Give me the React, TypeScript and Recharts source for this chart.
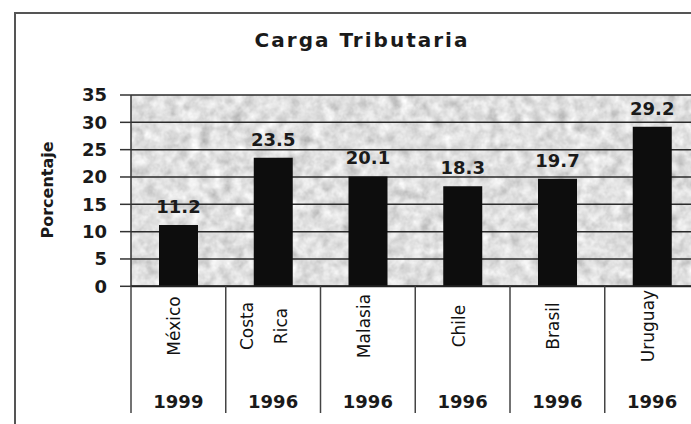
import { BarChart, Bar, XAxis, YAxis, CartesianGrid, LabelList } from 'recharts'

const paises = ['México', 'Costa Rica', 'Malasia', 'Chile', 'Brasil', 'Uruguay']
const anios = ['1999', '1996', '1996', '1996', '1996', '1996']
const carga = [11.2, 23.5, 20.1, 18.3, 19.7, 29.2]
const ticksY = [0, 5, 10, 15, 20, 25, 30, 35]

const data = paises.map((pais, i) => ({ pais, anio: anios[i], carga: carga[i] }))

// el gráfico es más ancho que la ventana: el borde derecho queda cortado como en el original
const W = 720
const H = 424
const MARGIN = { top: 95, right: 20.5, left: 0, bottom: 0 }
const Y_W = 131
const X_H = 137.7
const BAND = (W - Y_W - MARGIN.right) / paises.length
const BOTTOM = H - MARGIN.bottom - X_H

const FONT = '"DejaVu Sans", sans-serif'
const INK = '#1a1a1a'

function CategoryTick({ x, payload, index }: any) {
  const lines = String(payload.value).split(' ')
  const n = lines.length
  const left = x - BAND / 2
  const shift = n > 1 ? -2.7 : 2
  return (
    <g>
      <line x1={left} x2={left} y1={BOTTOM} y2={413} stroke="#444" strokeWidth={1.5} />
      {lines.map((l, i) => {
        const bx = x + shift + (i - (n - 1) / 2) * 34
        return (
          <text
            key={i}
            x={bx}
            y={326}
            transform={`rotate(-90, ${bx}, 326)`}
            textAnchor="middle"
            fontFamily={FONT}
            fontSize={17}
            fill="#111"
          >
            {l}
          </text>
        )
      })}
      <text x={x} y={408} textAnchor="middle" fontFamily={FONT} fontWeight="bold" fontSize={18} fill={INK}>
        {data[index].anio}
      </text>
    </g>
  )
}

function ValueLabel({ x, y, width, value }: any) {
  return (
    <text
      x={x + width / 2}
      y={y - 12}
      textAnchor="middle"
      fontFamily={FONT}
      fontWeight="bold"
      fontSize={18}
      fill={INK}
    >
      {Number(value).toFixed(1)}
    </text>
  )
}

export default function App() {
  return (
    <div
      style={{
        position: 'fixed',
        left: 0,
        top: 0,
        width: 691,
        height: 424,
        overflow: 'hidden',
        background: '#fff'
      }}
    >
      <svg width={691} height={424} style={{ position: 'absolute', left: 0, top: 0 }}>
        <defs>
          {/* fondo moteado tipo escaneo */}
          <filter id="ruido" x="0" y="0" width="100%" height="100%">
            <feTurbulence type="fractalNoise" baseFrequency="0.09" numOctaves="3" seed="7" result="n" />
            <feColorMatrix
              in="n"
              type="matrix"
              values="0.33 0.33 0.33 0 0  0.33 0.33 0.33 0 0  0.33 0.33 0.33 0 0  0 0 0 0 1"
              result="g"
            />
            <feComponentTransfer in="g">
              <feFuncR type="linear" slope="1.1" intercept="0.2" />
              <feFuncG type="linear" slope="1.1" intercept="0.2" />
              <feFuncB type="linear" slope="1.1" intercept="0.2" />
            </feComponentTransfer>
          </filter>
          <pattern id="textura" patternUnits="userSpaceOnUse" width={720} height={424}>
            <rect width={720} height={424} filter="url(#ruido)" />
          </pattern>
        </defs>
        <rect x={15} y={13} width={720} height={440} fill="none" stroke="#555" strokeWidth={2} />
        <text
          x={362}
          y={47}
          textAnchor="middle"
          fontFamily={FONT}
          fontWeight="bold"
          fontSize={20}
          letterSpacing={2}
          fill={INK}
        >
          Carga Tributaria
        </text>
        <text
          x={53}
          y={190}
          transform="rotate(-90, 53, 190)"
          textAnchor="middle"
          fontFamily={FONT}
          fontWeight="bold"
          fontSize={16}
          fill={INK}
        >
          Porcentaje
        </text>
      </svg>
      <div style={{ position: 'absolute', left: 0, top: 0 }}>
        <BarChart width={W} height={H} data={data} margin={MARGIN}>
          <CartesianGrid
            vertical={false}
            stroke="#2a2a2a"
            strokeWidth={1.5}
            fill="url(#textura) #c4c4c4"
          />
          <XAxis
            dataKey="pais"
            height={X_H}
            interval={0}
            tickLine={false}
            axisLine={{ stroke: '#222', strokeWidth: 2 }}
            tick={<CategoryTick />}
          />
          <YAxis
            width={Y_W}
            domain={[0, 35]}
            ticks={ticksY}
            interval={0}
            tickSize={11}
            tickMargin={13}
            axisLine={{ stroke: '#333', strokeWidth: 1.5 }}
            tickLine={{ stroke: '#333', strokeWidth: 1.5 }}
            tick={{ fill: INK, fontSize: 18, fontWeight: 'bold', fontFamily: FONT }}
          />
          <Bar dataKey="carga" fill="#0d0d0d" barSize={39} isAnimationActive={false}>
            <LabelList dataKey="carga" content={<ValueLabel />} />
          </Bar>
        </BarChart>
      </div>
    </div>
  )
}
